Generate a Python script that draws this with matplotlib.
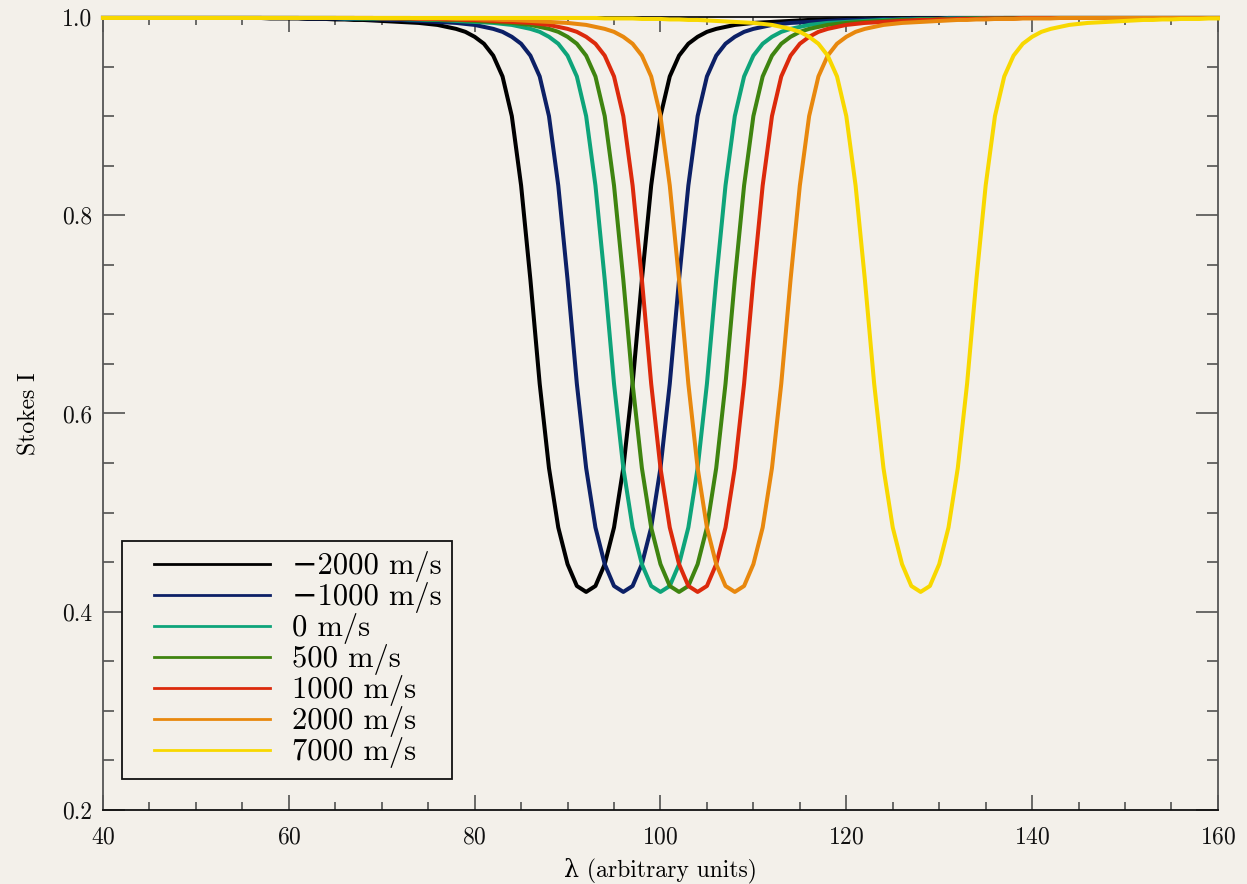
import numpy as np
import matplotlib
matplotlib.use("Agg")
import matplotlib.pyplot as plt
from matplotlib.lines import Line2D
from matplotlib.legend_handler import HandlerLine2D

# velocidades y centros de linea (unidades arbitrarias)
velocidades = ["−2000 m/s", "−1000 m/s", "0 m/s", "500 m/s", "1000 m/s", "2000 m/s", "7000 m/s"]
centros = [92, 96, 100, 102, 104, 108, 128]
colores = ["#000000", "#0c2066", "#0ea47a", "#3f8410", "#dc2a0c", "#e8880e", "#f8d800"]

perfil = [0.420, 0.426, 0.448, 0.485, 0.545, 0.630, 0.735, 0.830, 0.900, 0.940,
          0.961, 0.973, 0.980, 0.985, 0.988, 0.990, 0.992, 0.993, 0.994, 0.9945,
          0.995, 0.9955, 0.996, 0.9965, 0.997, 0.997, 0.9975, 0.9975, 0.998, 0.998,
          0.998, 0.9985, 0.9985, 0.9985, 0.9985, 0.999, 0.999, 0.999, 0.999, 0.999,
          0.999]

lam = np.arange(40, 161)
perfil = np.array(perfil)

fondo = "#f3f0ea"
fuente = ["cmr10", "DejaVu Serif"]
plt.rcParams["font.family"] = fuente
plt.rcParams["axes.formatter.use_mathtext"] = True

fig = plt.figure(figsize=(12.47, 8.84), dpi=100, facecolor=fondo)
ax = fig.add_axes([0.0826, 0.0837, 0.8941, 0.8971], facecolor=fondo)

for c, col, lab in zip(centros, colores, velocidades):
    d = np.minimum(np.abs(lam - c), len(perfil) - 1)
    ax.plot(lam, perfil[d], color=col, lw=2.9, label=lab, clip_on=False, zorder=3)

ax.set_xlim(40, 160)
ax.set_ylim(0.2, 1.0)
ax.set_xticks(np.arange(40, 161, 20))
ax.set_xticks(np.arange(40, 161, 5), minor=True)
ax.set_yticks([0.2, 0.4, 0.6, 0.8, 1.0])
ax.set_yticks(np.arange(0.2, 1.001, 0.05), minor=True)
ax.set_yticklabels(["0.2", "0.4", "0.6", "0.8", "1.0"])

ax.tick_params(axis="both", which="both", direction="in", top=True, right=True,
               colors="#444444", labelcolor="#111111", labelsize=17, width=1.1)
ax.tick_params(axis="x", which="major", length=11, pad=12)
ax.tick_params(axis="x", which="minor", length=5.5)
ax.tick_params(axis="y", which="major", length=16, pad=8)
ax.tick_params(axis="y", which="minor", length=8)
for s in ["left", "right"]:
    ax.spines[s].set_color("#555555")
for s in ["top", "bottom"]:
    ax.spines[s].set_color("#111111")
for s in ax.spines.values():
    s.set_linewidth(1.3)

ax.set_xlabel("λ (arbitrary units)", fontsize=17, labelpad=6)
ax.set_ylabel("Stokes I", fontsize=17, labelpad=15)

leg = ax.legend(loc="lower left", bbox_to_anchor=(0.017, 0.039), borderaxespad=0,
                fontsize=22, labelspacing=0.0, handlelength=4.5, handletextpad=0.7,
                borderpad=0.35, fancybox=False, framealpha=1, facecolor=fondo,
                edgecolor="#111111",
                handler_map={Line2D: HandlerLine2D(xpad=0.7)})
leg.get_frame().set_linewidth(1.3)
for ln in leg.get_lines():
    ln.set_linewidth(2.0)

plt.savefig("out.png", dpi=100, facecolor=fondo)
